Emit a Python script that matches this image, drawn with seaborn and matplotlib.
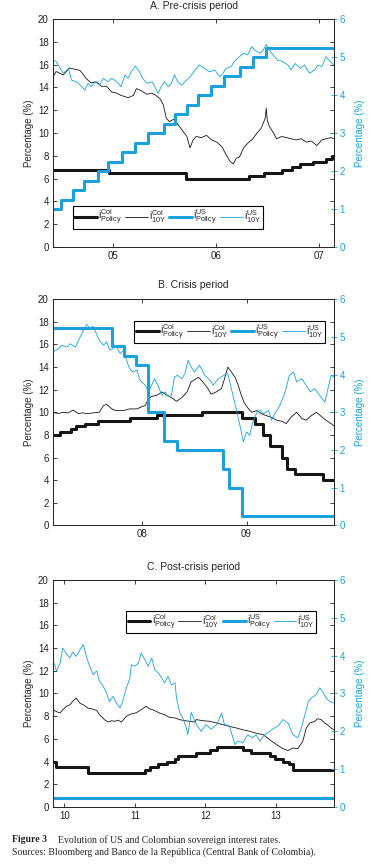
import pandas as pd
import matplotlib
matplotlib.use("Agg")
import matplotlib.pyplot as plt
import seaborn as sns

# ---- Panel A: pre-crisis (decimal years) ----
a_col10_t = [2004.42, 2004.45, 2004.52, 2004.58, 2004.63, 2004.68, 2004.71, 2004.74, 2004.79, 2004.84,
             2004.89, 2004.94, 2004.99, 2005.04, 2005.08, 2005.15, 2005.20, 2005.23, 2005.28, 2005.33,
             2005.38, 2005.42, 2005.46, 2005.49, 2005.52, 2005.55, 2005.59, 2005.62, 2005.67, 2005.72,
             2005.75, 2005.78, 2005.81, 2005.86, 2005.91, 2005.96, 2006.01, 2006.06, 2006.10, 2006.14,
             2006.17, 2006.20, 2006.23, 2006.27, 2006.31, 2006.36, 2006.40, 2006.44, 2006.48, 2006.49,
             2006.50, 2006.52, 2006.56, 2006.59, 2006.64, 2006.69, 2006.73, 2006.78, 2006.83, 2006.88,
             2006.93, 2006.98, 2007.03, 2007.07, 2007.12, 2007.146]
a_col10_v = [14.9, 15.4, 15.1, 15.7, 15.6, 15.5, 15.2, 14.8, 14.4, 14.5,
             14.1, 14.1, 13.6, 13.5, 13.3, 13.1, 13.3, 13.9, 13.7, 13.4,
             13.5, 13.3, 13.0, 12.5, 11.3, 11.0, 11.2, 10.9, 10.3, 9.7,
             8.7, 9.4, 9.7, 9.6, 9.8, 9.4, 9.2, 8.8, 8.1, 7.5,
             7.3, 7.8, 7.9, 8.7, 9.1, 9.5, 10.0, 10.4, 11.3, 12.2,
             11.1, 10.6, 10.0, 9.5, 9.7, 9.6, 9.5, 9.4, 9.5, 9.2,
             9.3, 8.9, 9.4, 9.5, 9.6, 9.5]
a_us10_t = [2004.42, 2004.45, 2004.48, 2004.52, 2004.57, 2004.60, 2004.65, 2004.70, 2004.73, 2004.76,
            2004.79, 2004.83, 2004.87, 2004.91, 2004.95, 2004.99, 2005.04, 2005.08, 2005.12, 2005.15,
            2005.18, 2005.22, 2005.26, 2005.29, 2005.33, 2005.38, 2005.41, 2005.44, 2005.47, 2005.50,
            2005.54, 2005.57, 2005.60, 2005.63, 2005.67, 2005.70, 2005.75, 2005.80, 2005.84, 2005.89,
            2005.94, 2005.99, 2006.04, 2006.07, 2006.10, 2006.15, 2006.18, 2006.23, 2006.27, 2006.31,
            2006.35, 2006.38, 2006.43, 2006.46, 2006.49, 2006.52, 2006.57, 2006.60, 2006.65, 2006.70,
            2006.73, 2006.77, 2006.82, 2006.86, 2006.91, 2006.96, 2006.99, 2007.03, 2007.07, 2007.11,
            2007.146]
a_us10_v = [4.92, 4.88, 4.75, 4.57, 4.70, 4.39, 4.35, 4.22, 4.13, 4.31,
            4.22, 4.35, 4.26, 4.44, 4.35, 4.44, 4.35, 4.22, 4.53, 4.44,
            4.61, 4.76, 4.61, 4.44, 4.31, 4.35, 4.22, 4.04, 4.22, 4.35,
            4.22, 4.31, 4.53, 4.35, 4.26, 4.35, 4.48, 4.66, 4.79, 4.70,
            4.61, 4.66, 4.48, 4.57, 4.70, 4.75, 4.88, 5.01, 5.10, 5.06,
            5.27, 5.18, 5.10, 5.18, 5.33, 5.18, 5.01, 4.92, 4.88, 4.79,
            4.66, 4.83, 4.70, 4.79, 4.57, 4.66, 4.79, 4.75, 5.01, 4.88,
            4.79]
a_colpol_t = [2004.42, 2004.96, 2005.71, 2006.32, 2006.47, 2006.64, 2006.74, 2006.82, 2006.94, 2007.07,
              2007.13, 2007.146]
a_colpol_v = [6.75, 6.5, 6.0, 6.25, 6.5, 6.75, 7.0, 7.25, 7.5, 7.75, 8.0, 8.0]
a_uspol_t = [2004.42, 2004.495, 2004.61, 2004.72, 2004.86, 2004.95, 2005.09, 2005.22, 2005.34, 2005.495,
             2005.60, 2005.72, 2005.83, 2005.95, 2006.08, 2006.24, 2006.36, 2006.49, 2007.146]
a_uspol_v = [1.0, 1.25, 1.5, 1.75, 2.0, 2.25, 2.5, 2.75, 3.0, 3.25,
             3.5, 3.75, 4.0, 4.25, 4.5, 4.75, 5.0, 5.25, 5.25]

# ---- Panel B: crisis ----
b_col10_t = [2007.146, 2007.20, 2007.24, 2007.29, 2007.34, 2007.39, 2007.43, 2007.48, 2007.53, 2007.59,
             2007.63, 2007.66, 2007.71, 2007.75, 2007.82, 2007.88, 2007.95, 2007.99, 2008.03, 2008.06,
             2008.09, 2008.14, 2008.19, 2008.23, 2008.28, 2008.33, 2008.38, 2008.43, 2008.47, 2008.54,
             2008.58, 2008.63, 2008.66, 2008.71, 2008.76, 2008.79, 2008.82, 2008.86, 2008.89, 2008.92,
             2008.95, 2008.98, 2009.02, 2009.05, 2009.10, 2009.14, 2009.19, 2009.24, 2009.29, 2009.34,
             2009.38, 2009.43, 2009.48, 2009.53, 2009.57, 2009.62, 2009.67, 2009.72, 2009.76, 2009.81,
             2009.836]
b_col10_v = [9.97, 9.9, 10.0, 9.95, 10.2, 9.88, 9.95, 9.88, 9.95, 10.0,
             10.6, 10.7, 10.3, 10.15, 10.15, 10.3, 10.3, 10.47, 10.6, 11.2,
             11.4, 11.5, 11.8, 11.55, 11.3, 10.97, 11.3, 11.8, 12.7, 13.1,
             12.7, 12.1, 11.6, 11.8, 12.1, 13.0, 14.0, 13.5, 13.1, 12.4,
             11.5, 10.8, 10.3, 10.0, 10.15, 9.88, 9.7, 9.55, 9.3, 9.2,
             9.0, 9.6, 10.0, 9.45, 9.3, 9.7, 10.0, 9.6, 9.3, 9.0,
             8.8]
b_us10_t = [2007.146, 2007.20, 2007.23, 2007.28, 2007.31, 2007.36, 2007.40, 2007.43, 2007.47, 2007.50,
            2007.53, 2007.56, 2007.59, 2007.63, 2007.66, 2007.69, 2007.72, 2007.75, 2007.79, 2007.82,
            2007.85, 2007.88, 2007.91, 2007.95, 2007.98, 2008.03, 2008.06, 2008.09, 2008.12, 2008.15,
            2008.19, 2008.22, 2008.25, 2008.28, 2008.31, 2008.34, 2008.38, 2008.41, 2008.44, 2008.47,
            2008.50, 2008.55, 2008.60, 2008.65, 2008.68, 2008.73, 2008.78, 2008.82, 2008.87, 2008.90,
            2008.94, 2008.97, 2009.00, 2009.03, 2009.06, 2009.10, 2009.13, 2009.16, 2009.21, 2009.24,
            2009.27, 2009.32, 2009.37, 2009.41, 2009.45, 2009.48, 2009.53, 2009.57, 2009.61, 2009.65,
            2009.70, 2009.75, 2009.78, 2009.81, 2009.836]
b_us10_v = [4.60, 4.69, 4.78, 4.73, 4.82, 4.73, 4.96, 5.13, 5.33, 5.24,
            5.28, 5.10, 4.91, 4.78, 4.87, 4.65, 4.69, 4.78, 4.56, 4.65,
            4.38, 4.16, 4.07, 4.12, 3.85, 3.72, 3.54, 3.72, 3.89, 3.72,
            3.45, 3.54, 3.41, 3.45, 3.94, 3.98, 3.89, 4.03, 4.38, 4.20,
            4.07, 4.25, 3.98, 3.85, 3.72, 3.89, 3.98, 4.03, 3.45, 3.10,
            2.61, 2.21, 2.48, 2.39, 2.74, 3.01, 3.05, 2.96, 3.05, 2.79,
            2.96, 3.19, 3.54, 3.98, 4.07, 3.81, 3.89, 3.72, 3.54, 3.63,
            3.45, 3.27, 3.63, 3.98, 3.94]
b_colpol_t = [2007.146, 2007.21, 2007.32, 2007.37, 2007.45, 2007.58, 2007.88, 2008.14, 2008.57, 2008.96,
              2009.08, 2009.16, 2009.22, 2009.34, 2009.39, 2009.46, 2009.73, 2009.836]
b_colpol_v = [8.0, 8.25, 8.5, 8.75, 9.0, 9.25, 9.5, 9.75, 10.0, 9.5,
              9.0, 8.0, 7.0, 6.0, 5.0, 4.5, 4.0, 4.0]
b_uspol_t = [2007.146, 2007.71, 2007.83, 2007.94, 2008.06, 2008.21, 2008.33, 2008.77, 2008.83, 2008.96,
             2009.836]
b_uspol_v = [5.25, 4.75, 4.5, 4.25, 3.0, 2.25, 2.0, 1.5, 1.0, 0.25, 0.25]

# ---- Panel C: post-crisis ----
c_col10_t = [2009.84, 2009.89, 2009.94, 2009.98, 2010.03, 2010.08, 2010.12, 2010.17, 2010.22, 2010.27,
             2010.34, 2010.39, 2010.46, 2010.50, 2010.57, 2010.62, 2010.67, 2010.72, 2010.76, 2010.81,
             2010.88, 2010.95, 2011.02, 2011.09, 2011.16, 2011.21, 2011.28, 2011.35, 2011.42, 2011.49,
             2011.57, 2011.64, 2011.71, 2011.78, 2011.85, 2011.87, 2011.97, 2012.06, 2012.16, 2012.25,
             2012.34, 2012.44, 2012.53, 2012.63, 2012.72, 2012.82, 2012.91, 2013.01, 2013.10, 2013.17,
             2013.24, 2013.31, 2013.38, 2013.43, 2013.48, 2013.55, 2013.59, 2013.64, 2013.69, 2013.73,
             2013.78, 2013.82]
c_col10_v = [8.57, 8.4, 8.28, 8.57, 8.87, 9.0, 9.31, 9.6, 9.15, 9.0,
             8.7, 8.65, 8.5, 8.13, 7.69, 7.49, 7.6, 7.55, 7.65, 7.49,
             7.99, 8.2, 8.3, 8.57, 8.87, 8.65, 8.5, 8.28, 8.13, 7.9,
             7.84, 7.69, 7.6, 7.55, 7.49, 7.7, 7.6, 7.55, 7.4, 7.25,
             7.1, 6.96, 6.8, 6.67, 6.5, 6.37, 5.93, 5.49, 5.14, 4.96,
             5.2, 5.14, 5.79, 6.96, 7.4, 7.55, 7.78, 7.7, 7.4, 7.25,
             6.96, 6.81]
c_us10_t = [2009.84, 2009.89, 2009.94, 2009.98, 2010.03, 2010.08, 2010.12, 2010.17, 2010.22, 2010.27,
            2010.31, 2010.36, 2010.41, 2010.46, 2010.50, 2010.55, 2010.60, 2010.64, 2010.69, 2010.74,
            2010.79, 2010.83, 2010.88, 2010.93, 2010.95, 2011.00, 2011.05, 2011.09, 2011.14, 2011.19,
            2011.24, 2011.28, 2011.33, 2011.38, 2011.42, 2011.47, 2011.52, 2011.57, 2011.59, 2011.64,
            2011.68, 2011.73, 2011.75, 2011.80, 2011.87, 2011.94, 2012.01, 2012.08, 2012.16, 2012.23,
            2012.27, 2012.34, 2012.42, 2012.46, 2012.53, 2012.60, 2012.67, 2012.72, 2012.77, 2012.84,
            2012.91, 2012.98, 2013.03, 2013.10, 2013.17, 2013.24, 2013.31, 2013.36, 2013.41, 2013.46,
            2013.50, 2013.57, 2013.62, 2013.67, 2013.71, 2013.76, 2013.82]
c_us10_v = [3.89, 3.59, 3.80, 4.20, 4.05, 3.94, 4.10, 3.98, 4.15, 4.29,
            4.00, 3.72, 3.50, 3.60, 3.32, 3.20, 3.01, 2.79, 2.92, 2.75,
            2.62, 2.80, 3.15, 3.40, 3.76, 3.72, 3.80, 4.07, 3.90, 3.72,
            3.94, 3.63, 3.55, 3.41, 3.28, 3.45, 3.23, 3.28, 2.88, 2.48,
            2.35, 2.09, 1.91, 2.50, 2.18, 2.00, 2.18, 2.05, 2.18, 2.48,
            2.18, 2.14, 1.65, 1.74, 1.70, 1.91, 1.83, 1.91, 1.74, 1.91,
            2.00, 2.09, 2.14, 2.31, 2.22, 1.91, 1.83, 2.09, 2.44, 2.79,
            2.88, 2.97, 3.15, 3.02, 2.88, 2.79, 2.75]
c_colpol_t = [2009.84, 2009.89, 2010.34, 2011.14, 2011.21, 2011.33, 2011.45, 2011.57, 2011.61, 2011.87,
              2012.06, 2012.16, 2012.53, 2012.65, 2012.91, 2012.98, 2013.10, 2013.19, 2013.24, 2013.82]
c_colpol_v = [4.0, 3.5, 3.0, 3.25, 3.5, 3.75, 4.0, 4.25, 4.5, 4.75,
              5.0, 5.25, 5.0, 4.75, 4.5, 4.25, 4.0, 3.75, 3.25, 3.25]
c_uspol_t = [2009.84, 2013.82]
c_uspol_v = [0.25, 0.25]

titles = ["A. Pre-crisis period", "B. Crisis period", "C. Post-crisis period"]
year_ticks = [[2005, 2006, 2007], [2008, 2009], [2010, 2011, 2012, 2013]]
year_labels = [["05", "06", "07"], ["08", "09"], ["10", "11", "12", "13"]]
x_limits = [(2004.42, 2007.146), (2007.146, 2009.836), (2009.84, 2013.82)]
legend_labels = [r"${\rm i}^{\rm Col}_{\rm Policy}$", r"${\rm i}^{\rm Col}_{\rm 10Y}$",
                 r"${\rm i}^{\rm US}_{\rm Policy}$", r"${\rm i}^{\rm US}_{\rm 10Y}$"]

sns.set_style("ticks")
plt.rcParams["font.family"] = ["Liberation Sans", "DejaVu Sans"]
plt.rcParams["mathtext.fontset"] = "custom"
plt.rcParams["mathtext.rm"] = "Liberation Sans"
plt.rcParams["mathtext.it"] = "Liberation Sans:italic"
plt.rcParams["font.size"] = 6.5

BLUE = "#1ba1dc"
DARK = "#161616"

fig = plt.figure(figsize=(3.73, 8.64), dpi=100)
# axes boxes in figure fractions (left, bottom, width, height)
boxes = [(0.142, 0.714, 0.753, 0.264),
         (0.142, 0.392, 0.753, 0.2616),
         (0.142, 0.066, 0.753, 0.2627)]
title_y = [0.993, 0.670, 0.344]
legend_pos = [("lower left", (0.07, 0.08)),
              ("upper left", (0.29, 0.905)),
              ("upper left", (0.26, 0.865))]

panels = [
    (a_colpol_t, a_colpol_v, a_col10_t, a_col10_v, a_uspol_t, a_uspol_v, a_us10_t, a_us10_v),
    (b_colpol_t, b_colpol_v, b_col10_t, b_col10_v, b_uspol_t, b_uspol_v, b_us10_t, b_us10_v),
    (c_colpol_t, c_colpol_v, c_col10_t, c_col10_v, c_uspol_t, c_uspol_v, c_us10_t, c_us10_v),
]

for i, (cpt, cpv, c10t, c10v, upt, upv, u10t, u10v) in enumerate(panels):
    ax = fig.add_axes(boxes[i])
    ax2 = ax.twinx()

    col_pol = pd.DataFrame({"t": cpt, "v": cpv})
    col_10y = pd.DataFrame({"t": c10t, "v": c10v})
    us_pol = pd.DataFrame({"t": upt, "v": upv})
    us_10y = pd.DataFrame({"t": u10t, "v": u10v})

    sns.lineplot(data=col_pol, x="t", y="v", ax=ax, color=DARK, linewidth=2.2,
                 drawstyle="steps-post", estimator=None, sort=False)
    sns.lineplot(data=col_10y, x="t", y="v", ax=ax, color=DARK, linewidth=0.6,
                 estimator=None, sort=False)
    sns.lineplot(data=us_pol, x="t", y="v", ax=ax2, color=BLUE, linewidth=2.2,
                 drawstyle="steps-post", estimator=None, sort=False)
    sns.lineplot(data=us_10y, x="t", y="v", ax=ax2, color=BLUE, linewidth=0.6,
                 estimator=None, sort=False)

    ax.set_xlim(*x_limits[i])
    ax.set_ylim(0, 20)
    ax2.set_ylim(0, 6)
    ax.set_yticks(range(0, 21, 2))
    ax2.set_yticks(range(0, 7))
    ax.set_xticks(year_ticks[i])
    ax.set_xticklabels(year_labels[i])

    ax.set_xlabel("")
    ax.set_ylabel("Percentage (%)", fontsize=7, labelpad=3)
    ax2.set_ylabel("Percentage (%)", fontsize=7, color=BLUE, labelpad=7)

    ax.tick_params(axis="both", direction="in", length=3, width=0.6, top=True,
                   right=True, labelright=False, labelsize=7, colors="#222222", pad=3)
    ax2.tick_params(axis="y", direction="inout", length=4, width=0.6, colors=BLUE,
                    labelsize=7, pad=2)
    for sp in list(ax.spines.values()) + list(ax2.spines.values()):
        sp.set_linewidth(0.6)
        sp.set_color("#222222")

    fig.text(0.519, title_y[i], titles[i], ha="center", va="center", fontsize=7.5)

    handles = ax.get_lines()[:2] + ax2.get_lines()[:2]
    loc, anchor = legend_pos[i]
    leg = ax2.legend(handles, legend_labels, loc=loc, bbox_to_anchor=anchor, ncol=4,
                     fontsize=7.5, frameon=True, fancybox=False, framealpha=1,
                     edgecolor="black", handlelength=2.2, handletextpad=0.1,
                     columnspacing=0.3, borderpad=0.15, borderaxespad=0)
    leg.get_frame().set_linewidth(0.8)

fig.text(0.032, 0.028, "Figure 3", fontsize=7, fontweight="bold",
         family=["Liberation Serif", "DejaVu Serif"], va="center")
fig.text(0.155, 0.028, "Evolution of US and Colombian sovereign interest rates.", fontsize=7,
         family=["Liberation Serif", "DejaVu Serif"], va="center")
fig.text(0.032, 0.014, "Sources: Bloomberg and Banco de la Rep\u00fablica (Central Bank of Colombia).",
         fontsize=7, family=["Liberation Serif", "DejaVu Serif"], va="center")

fig.savefig("out.png", dpi=100)
